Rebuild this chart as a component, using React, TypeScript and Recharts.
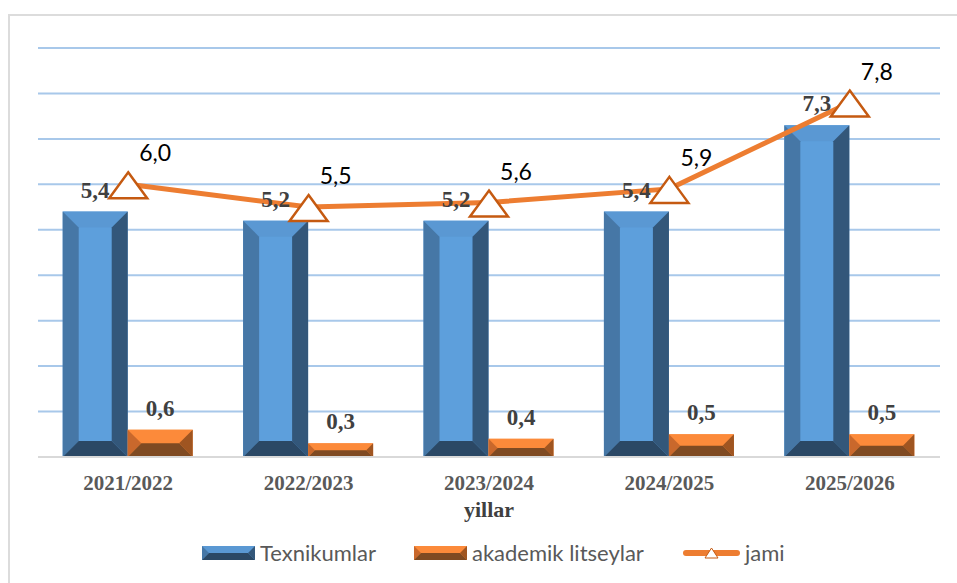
import { ComposedChart, Bar, Line, XAxis, YAxis, CartesianGrid, LabelList } from "recharts";

const YEARS = ["2021/2022", "2022/2023", "2023/2024", "2024/2025", "2025/2026"];
const TEXNIKUM = [5.4, 5.2, 5.2, 5.4, 7.3];
const LITSEY = [0.6, 0.3, 0.4, 0.5, 0.5];
const JAMI = [6.0, 5.5, 5.6, 5.9, 7.8];
const Y_TICKS = [0, 1, 2, 3, 4, 5, 6, 7, 8, 9];

const BLUE = { top: "#5a98d3", face: "#5d9fdc", left: "#4677a6", right: "#33577a", bottom: "#2b4865" };
const ORANGE = { top: "#fc8a3a", face: "#f88a3b", left: "#c9682c", right: "#9f5521", bottom: "#7f4a22" };

const SANS = "Lato, 'Open Sans', sans-serif";
const SERIF = "'Liberation Serif', 'DejaVu Serif', serif";

const data = YEARS.map((y, i) => ({ year: y, texnikum: TEXNIKUM[i], litsey: LITSEY[i], jami: JAMI[i] }));

const fmt = (v: any) => Number(v).toFixed(1).replace(".", ",");

function bevel(c: typeof BLUE) {
  return (props: any) => {
    const { x, y, width: w, height: h } = props;
    if (!h || h <= 0) return null;
    const b = Math.min(16, h / 2, w / 2);
    return (
      <g>
        <rect x={x} y={y} width={w} height={h} fill={c.face} />
        <polygon points={`${x},${y} ${x + w},${y} ${x + w - b},${y + b} ${x + b},${y + b}`} fill={c.top} />
        <polygon points={`${x},${y} ${x + b},${y + b} ${x + b},${y + h - b} ${x},${y + h}`} fill={c.left} />
        <polygon points={`${x + w},${y} ${x + w},${y + h} ${x + w - b},${y + h - b} ${x + w - b},${y + b}`} fill={c.right} />
        <polygon points={`${x},${y + h} ${x + w},${y + h} ${x + w - b},${y + h - b} ${x + b},${y + h - b}`} fill={c.bottom} />
      </g>
    );
  };
}

function Triangle(props: any) {
  const { cx, cy } = props;
  if (cx == null || cy == null) return null;
  return (
    <polygon
      points={`${cx},${cy - 12} ${cx + 19},${cy + 14} ${cx - 19},${cy + 14}`}
      fill="#fff"
      stroke="#c55a11"
      strokeWidth={2.5}
      strokeLinejoin="miter"
    />
  );
}

function BarLabel(props: any) {
  const { x, y, width, value } = props;
  return (
    <text x={x + width / 2} y={y - 14} textAnchor="middle" fontFamily={SERIF} fontWeight="bold" fontSize={23} fill="#404040">
      {fmt(value)}
    </text>
  );
}

function LineLabel(props: any) {
  const { x, y, value } = props;
  return (
    <text x={x + 27} y={y - 23} textAnchor="middle" fontFamily={SANS} fontSize={23} fill="#000">
      {fmt(value)}
    </text>
  );
}

function YearTick(props: any) {
  const { x, y, payload } = props;
  return (
    <text x={x} y={y + 33} textAnchor="middle" fontFamily={SERIF} fontWeight="bold" fontSize={21} fill="#595959">
      {payload.value}
    </text>
  );
}

function BevelIcon({ c }: { c: typeof BLUE }) {
  const w = 53, h = 14, b = 7;
  return (
    <svg width={w} height={h} style={{ display: "block" }}>
      <rect x={0} y={0} width={w} height={h} fill={c.face} />
      <polygon points={`0,0 ${w},0 ${w - b},${b} ${b},${b}`} fill={c.top} />
      <polygon points={`0,0 ${b},${b} 0,${h}`} fill={c.left} />
      <polygon points={`${w},0 ${w},${h} ${w - b},${b}`} fill={c.right} />
      <polygon points={`0,${h} ${w},${h} ${w - b},${b} ${b},${b}`} fill={c.bottom} />
    </svg>
  );
}

function LegendItem({ left, icon, label }: { left: number; icon: any; label: string }) {
  return (
    <div style={{ position: "absolute", left, top: 539, display: "flex", alignItems: "center", gap: 5, whiteSpace: "nowrap" }}>
      {icon}
      <span style={{ fontFamily: SANS, fontSize: 22, color: "#595959" }}>{label}</span>
    </div>
  );
}

export default function App() {
  return (
    <div style={{ position: "absolute", left: 0, top: 0, width: 957, height: 583, overflow: "hidden", background: "#fff" }}>
      <div style={{ position: "absolute", left: 8, top: 14, width: 990, height: 620, border: "2px solid #dcdcdc", boxSizing: "border-box" }} />
      <div style={{ position: "absolute", left: 0, top: 0 }}>
        <ComposedChart
          width={957}
          height={583}
          data={data}
          margin={{ top: 48, right: 17, left: 38, bottom: 56 }}
          barCategoryGap="13.7%"
          barGap={0}
        >
          <CartesianGrid horizontal vertical={false} stroke="#a8c8ea" strokeWidth={2} />
          <XAxis
            dataKey="year"
            height={70}
            tickSize={0}
            tickMargin={0}
            tickLine={false}
            axisLine={{ stroke: "#d9d9d9", strokeWidth: 2 }}
            tick={YearTick}
            interval={0}
            label={{
              content: (p: any) => {
                const vb = p.viewBox;
                return (
                  <text x={vb.x + vb.width / 2} y={vb.y + 60} textAnchor="middle" fontFamily={SERIF} fontWeight="bold" fontSize={22} fill="#404040">
                    yillar
                  </text>
                );
              },
            }}
          />
          <YAxis hide domain={[0, 9]} ticks={Y_TICKS} />
          <Bar dataKey="texnikum" name="Texnikumlar" shape={bevel(BLUE)} isAnimationActive={false}>
            <LabelList dataKey="texnikum" content={BarLabel} />
          </Bar>
          <Bar dataKey="litsey" name="akademik litseylar" shape={bevel(ORANGE)} isAnimationActive={false}>
            <LabelList dataKey="litsey" content={BarLabel} />
          </Bar>
          <Line
            dataKey="jami"
            name="jami"
            type="linear"
            stroke="#ed7d31"
            strokeWidth={5}
            dot={Triangle}
            activeDot={false}
            isAnimationActive={false}
          >
            <LabelList dataKey="jami" content={LineLabel} />
          </Line>
        </ComposedChart>
      </div>
      <LegendItem left={202} icon={<BevelIcon c={BLUE} />} label="Texnikumlar" />
      <LegendItem left={414} icon={<BevelIcon c={ORANGE} />} label="akademik litseylar" />
      <LegendItem
        left={683}
        icon={
          <svg width={57} height={16} style={{ display: "block" }}>
            <line x1={3} y1={8} x2={54} y2={8} stroke="#ed7d31" strokeWidth={6} strokeLinecap="round" />
            <polygon points="28.5,3 35,13 22,13" fill="#fff" stroke="#c55a11" strokeWidth={1} />
          </svg>
        }
        label="jami"
      />
    </div>
  );
}
